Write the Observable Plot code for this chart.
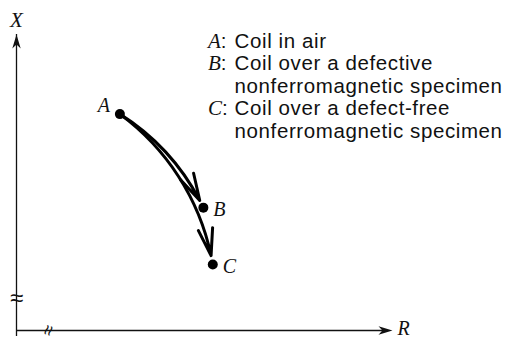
<!DOCTYPE html>
<html>
<head>
<meta charset="utf-8">
<script src="https://cdn.jsdelivr.net/npm/d3@7"></script>
<script src="https://cdn.jsdelivr.net/npm/@observablehq/plot@0.6"></script>
<style>
  body { margin: 0; background: #fff; }
  #chart { position: relative; width: 517px; height: 338px; }
  #key {
    position: absolute; left: 208px; top: 30px;
    font-family: "Liberation Sans", Arial, sans-serif; font-size: 20.5px;
    letter-spacing: 0.6px; line-height: 22.4px; color: #111;
    display: grid; grid-template-columns: auto auto; column-gap: 0;
    white-space: pre;
  }
  #key i { font-family: "Liberation Serif", serif; font-size: 21px; letter-spacing: 0; }
</style>
</head>
<body>
<div id="chart"><div id="key"></div></div>
<script>
// Impedance plane points (R = resistance, X = reactance), arbitrary units
const pointNames = ["A", "B", "C"];
const pointR = [2.75, 4.97, 5.22];
const pointX = [7.31, 4.15, 2.23];

// Transitions drawn as curved arrows
const arrowFrom = ["A", "A"];
const arrowTo = ["B", "C"];

// Axes
const axisNames = ["R", "X"];
const axisMax = 10;
const xBreakAt = 0.85;   // break mark on the R axis
const yBreakAt = 1.1;    // break mark on the X axis

// Key entries
const keyLetters = ["A", "B", "C"];
const keyText = [
  ["Coil in air"],
  ["Coil over a defective", "nonferromagnetic specimen"],
  ["Coil over a defect-free", "nonferromagnetic specimen"]
];

const points = pointNames.map((name, i) => ({name, r: pointR[i], x: pointX[i]}));
const byName = Object.fromEntries(points.map(p => [p.name, p]));
const arrows = arrowFrom.map((f, i) => ({
  r1: byName[f].r, x1: byName[f].x, r2: byName[arrowTo[i]].r, x2: byName[arrowTo[i]].x
}));

// Filled barbed arrowheads, tip at the symbol origin
const headUp = {draw(ctx, size) {
  const L = Math.sqrt(size / Math.PI), w = 0.3 * L;
  ctx.moveTo(0, 0); ctx.lineTo(-w, L); ctx.lineTo(0, 0.72 * L); ctx.lineTo(w, L); ctx.closePath();
}};
const headRight = {draw(ctx, size) {
  const L = Math.sqrt(size / Math.PI), w = 0.3 * L;
  ctx.moveTo(0, 0); ctx.lineTo(-L, -w); ctx.lineTo(-0.72 * L, 0); ctx.lineTo(-L, w); ctx.closePath();
}};

const serif = "Liberation Serif, serif";

const plot = Plot.plot({
  width: 517,
  height: 338,
  marginLeft: 16,
  marginRight: 125,
  marginTop: 34,
  marginBottom: 8,
  x: {domain: [0, axisMax], axis: null},
  y: {domain: [0, axisMax], axis: null},
  marks: [
    // axes
    Plot.ruleX([0], {y1: 0, y2: axisMax, y: null, strokeWidth: 1.3, stroke: "#111", insetTop: 6}),
    Plot.ruleY([0], {x1: 0, x2: axisMax, x: null, strokeWidth: 1.3, stroke: "#111", insetRight: 6}),
    Plot.dot([0], {x: 0, y: axisMax, symbol: headUp, r: 14, fill: "#111", stroke: null}),
    Plot.dot([0], {x: axisMax, y: 0, symbol: headRight, r: 14, fill: "#111", stroke: null}),
    Plot.text([axisNames[1]], {x: 0, y: axisMax, text: d => d, dy: -14, fontFamily: serif, fontStyle: "italic", fontSize: 21, fill: "#111"}),
    Plot.text([axisNames[0]], {x: axisMax, y: 0, text: d => d, dx: 5, dy: -2, textAnchor: "start", fontFamily: serif, fontStyle: "italic", fontSize: 20, fill: "#111"}),
    // axis breaks
    Plot.text([yBreakAt], {x: 0, y: d => d, text: () => "\u2248", fontSize: 24, fill: "#111"}),
    Plot.text([xBreakAt], {x: d => d, y: 0, text: () => "\u2248", rotate: -72, fontSize: 19, fill: "#111"}),
    // curved transitions
    Plot.arrow([arrows[0]], {x1: "r1", y1: "x1", x2: "r2", y2: "x2", bend: 16, insetEnd: 8, headLength: 14, headAngle: 30, strokeWidth: 3, stroke: "#000", strokeLinejoin: "miter"}),
    Plot.arrow([arrows[1]], {x1: "r1", y1: "x1", x2: "r2", y2: "x2", bend: 22, insetEnd: 9, headLength: 14, headAngle: 30, strokeWidth: 3, stroke: "#000", strokeLinejoin: "miter"}),
    // states
    Plot.dot(points, {x: "r", y: "x", r: 5, fill: "#000", stroke: null}),
    Plot.text(points.filter(p => p.name === "A"), {x: "r", y: "x", text: "name", textAnchor: "end", dx: -10, dy: -9, fontFamily: serif, fontStyle: "italic", fontSize: 20, fill: "#111"}),
    Plot.text(points.filter(p => p.name !== "A"), {x: "r", y: "x", text: "name", textAnchor: "start", dx: 10, dy: 2, fontFamily: serif, fontStyle: "italic", fontSize: 20, fill: "#111"})
  ]
});

const chart = document.getElementById("chart");
chart.insertBefore(plot, chart.firstChild);

const key = document.getElementById("key");
keyLetters.forEach((letter, i) => {
  keyText[i].forEach((line, j) => {
    const k = document.createElement("div");
    if (j === 0) k.innerHTML = `<i>${letter}</i>: `;
    const t = document.createElement("div");
    t.textContent = line;
    key.appendChild(k);
    key.appendChild(t);
  });
});
</script>
</body>
</html>
